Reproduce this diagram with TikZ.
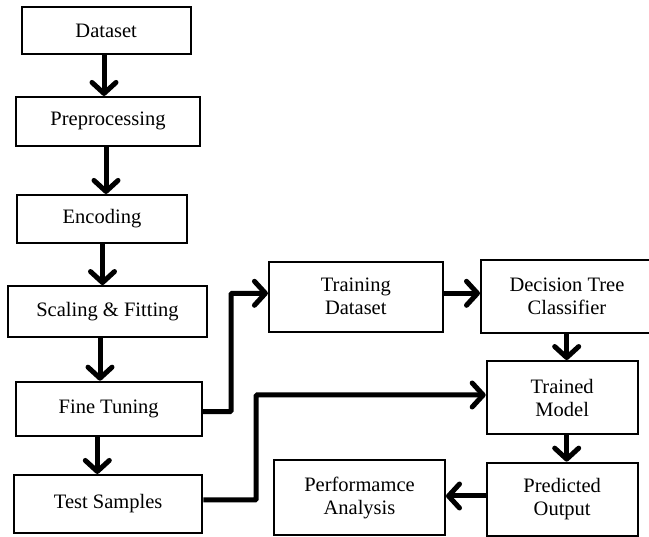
\documentclass[tikz,border=0pt]{standalone}
\usepackage{fontspec}
\setmainfont{Liberation Serif}
\usetikzlibrary{arrows.meta,calc}
\begin{document}
\begin{tikzpicture}[x=1pt,y=-1pt,
  box/.style={draw=black,line width=2pt,inner sep=0pt,align=center,
    font=\fontsize{20.5}{23}\selectfont},
  arr/.style={line width=5pt,-{Straight Barb[length=11pt,width=24pt,round]}}]
\useasboundingbox (0,0) rectangle (649,537);
\fill[white] (0,0) rectangle (649,537);
\node[box,minimum width=169pt,minimum height=46.7pt] (dataset) at (106.2,30.7) {Dataset};
\node[box,minimum width=184.6pt,minimum height=48.7pt] (prep) at (108,121.3) {Preprocessing};
\node[box,minimum width=169.4pt,minimum height=47.7pt] (enc) at (102,218.8) {Encoding};
\node[box,minimum width=198.4pt,minimum height=51.3pt] (scal) at (107.5,311.7) {Scaling \& Fitting};
\node[box,minimum width=186pt,minimum height=54pt] (fine) at (108.7,408.7) {Fine Tuning};
\node[box,minimum width=188.3pt,minimum height=57.7pt] (test) at (108.2,503.8) {Test Samples};
\node[box,minimum width=173.7pt,minimum height=70pt] (train) at (355.8,296.7) {Training\\Dataset};
\node[box,minimum width=172pt,minimum height=73.3pt] (dtc) at (567,296.7) {Decision Tree\\Classifier};
\node[box,minimum width=151pt,minimum height=73.3pt] (model) at (562.2,397.7) {Trained\\Model};
\node[box,minimum width=151pt,minimum height=73.3pt] (pred) at (562.2,499.3) {Predicted\\Output};
\node[box,minimum width=171pt,minimum height=75pt] (perf) at (359.5,497.5) {Performamce\\Analysis};

\draw[arr] ([xshift=-2.2pt]dataset.south) -- ([xshift=-2.2pt]dataset.south |- prep.north);
\draw[arr] ([xshift=-2pt]prep.south) -- ([xshift=-2pt]prep.south |- enc.north);
\draw[arr] ([xshift=0.5pt]enc.south) -- ([xshift=0.5pt]enc.south |- scal.north);
\draw[arr] ([xshift=-7.5pt]scal.south) -- ([xshift=-7.5pt]scal.south |- fine.north);
\draw[arr] ([xshift=-11.4pt]fine.south) -- ([xshift=-11.4pt]fine.south |- test.north);
\draw[arr] ([yshift=3.4pt]train.east) -- ([yshift=3.4pt]train.east -| dtc.west);
\draw[arr] ([xshift=-0.3pt]dtc.south) -- ([xshift=-0.3pt]dtc.south |- model.north);
\draw[arr] ([xshift=4.5pt]model.south) -- ([xshift=4.5pt]model.south |- pred.north);
\draw[arr] ([yshift=3.3pt]pred.west) -- ([yshift=3.3pt]pred.west -| perf.east);
\draw[arr,rounded corners=1pt] ([yshift=-3pt]fine.east) -- ++(28.3,0) |- ([yshift=3.4pt]train.west);
\draw[arr,rounded corners=1pt] ([yshift=3.8pt]test.east) -- ++(52.7,0) |- ([yshift=2.7pt]model.west);
\end{tikzpicture}
\end{document}
